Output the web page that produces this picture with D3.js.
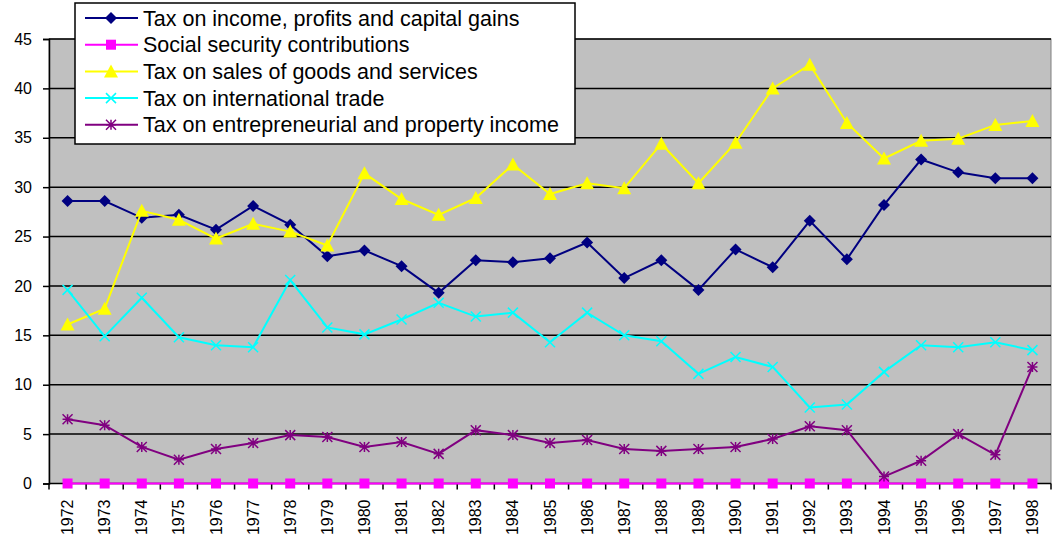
<!DOCTYPE html>
<html>
<head>
<meta charset="utf-8">
<script src="https://cdnjs.cloudflare.com/ajax/libs/d3/7.8.5/d3.min.js"></script>
<style>
  body { margin: 0; background: #fff; }
  svg { display: block; font-family: "Liberation Sans", Arial, sans-serif; }
</style>
</head>
<body>
<div id="chart"></div>
<script>

// categories
var years = ["1972", "1973", "1974", "1975", "1976", "1977", "1978", "1979", "1980", "1981",
  "1982", "1983", "1984", "1985", "1986", "1987", "1988", "1989", "1990", "1991",
  "1992", "1993", "1994", "1995", "1996", "1997", "1998"];

// series values
var incomeTax = [28.6, 28.6, 26.9, 27.2, 25.7, 28.1, 26.2, 23.0, 23.6, 22.0,
  19.3, 22.6, 22.4, 22.8, 24.4, 20.8, 22.6, 19.6, 23.7, 21.9,
  26.6, 22.7, 28.2, 32.8, 31.5, 30.9, 30.9];
var socialSecurity = [0, 0, 0, 0, 0, 0, 0, 0, 0, 0,
  0, 0, 0, 0, 0, 0, 0, 0, 0, 0,
  0, 0, 0, 0, 0, 0, 0];
var salesTax = [16.1, 17.7, 27.6, 26.7, 24.8, 26.3, 25.5, 24.1, 31.4, 28.8,
  27.2, 28.9, 32.3, 29.3, 30.4, 29.9, 34.4, 30.4, 34.5, 40.0,
  42.4, 36.5, 32.9, 34.7, 34.9, 36.3, 36.7];
var tradeTax = [19.6, 14.9, 18.8, 14.8, 14.0, 13.8, 20.6, 15.8, 15.1, 16.6,
  18.3, 16.9, 17.3, 14.3, 17.3, 15.0, 14.4, 11.1, 12.8, 11.8,
  7.7, 8.0, 11.3, 14.0, 13.8, 14.3, 13.5];
var propertyIncome = [6.5, 5.9, 3.7, 2.4, 3.5, 4.1, 4.9, 4.7, 3.7, 4.2,
  3.0, 5.4, 4.9, 4.1, 4.4, 3.5, 3.3, 3.5, 3.7, 4.5,
  5.8, 5.4, 0.7, 2.3, 5.0, 2.9, 11.8];

// legend labels
var seriesNames = ["Tax on income, profits and capital gains", "Social security contributions",
  "Tax on sales of goods and services", "Tax on international trade",
  "Tax on entrepreneurial and property income"];

// y tick labels
var yTicks = [0, 5, 10, 15, 20, 25, 30, 35, 40, 45];

var attrs = {
  width: 1053,
  height: 537,
  plotLeft: 49,
  plotRight: 1051,
  plotTop: 39,
  plotBottom: 483.5
};

var series = [
  { name: seriesNames[0], values: incomeTax, color: "#000080", marker: "diamond" },
  { name: seriesNames[1], values: socialSecurity, color: "#FF00FF", marker: "square" },
  { name: seriesNames[2], values: salesTax, color: "#FFFF00", marker: "triangle" },
  { name: seriesNames[3], values: tradeTax, color: "#00FFFF", marker: "cross" },
  { name: seriesNames[4], values: propertyIncome, color: "#800080", marker: "star" }
];

var svg = d3.select("#chart").append("svg")
  .attr("width", attrs.width)
  .attr("height", attrs.height);

// scales
var x = d3.scaleBand().domain(years).range([attrs.plotLeft, attrs.plotRight]).padding(0);
var y = d3.scaleLinear().domain([0, 45]).range([attrs.plotBottom, attrs.plotTop]);
var cx = function (d) { return x(d) + x.bandwidth() / 2; };

// plot background
svg.append("rect")
  .attr("x", attrs.plotLeft).attr("y", attrs.plotTop)
  .attr("width", attrs.plotRight - attrs.plotLeft)
  .attr("height", attrs.plotBottom - attrs.plotTop)
  .attr("fill", "#C0C0C0")
  .attr("stroke", "#808080").attr("stroke-width", 1);

// gridlines
svg.append("g").selectAll("line").data(yTicks.filter(function (d) { return d > 0; }))
  .enter().append("line")
  .attr("x1", attrs.plotLeft).attr("x2", attrs.plotRight)
  .attr("y1", function (d) { return y(d); }).attr("y2", function (d) { return y(d); })
  .attr("stroke", "#000").attr("stroke-width", 1.5);

// y axis
var yAxis = svg.append("g")
  .attr("transform", "translate(" + attrs.plotLeft + ",0)")
  .call(d3.axisLeft(y).tickValues(yTicks).tickSize(6).tickPadding(11));
yAxis.select(".domain").attr("stroke", "#000").attr("stroke-width", 1.5);
yAxis.selectAll(".tick line").attr("stroke", "#000").attr("stroke-width", 1.5);
yAxis.selectAll("text").attr("font-size", 16).attr("fill", "#000")
  .attr("font-family", "'Liberation Sans', Arial, sans-serif");

// x axis, ticks sit between categories
var xAxis = svg.append("g")
  .attr("transform", "translate(0," + attrs.plotBottom + ")");
xAxis.append("line")
  .attr("x1", attrs.plotLeft).attr("x2", attrs.plotRight)
  .attr("stroke", "#000").attr("stroke-width", 1.5);
xAxis.selectAll(".xtick").data(years.concat(["end"]))
  .enter().append("line")
  .attr("class", "xtick")
  .attr("x1", function (d, i) { return attrs.plotLeft + i * x.bandwidth(); })
  .attr("x2", function (d, i) { return attrs.plotLeft + i * x.bandwidth(); })
  .attr("y1", 0).attr("y2", 6)
  .attr("stroke", "#000").attr("stroke-width", 1.5);
xAxis.selectAll(".xlabel").data(years)
  .enter().append("text")
  .attr("class", "xlabel")
  .attr("transform", function (d) { return "translate(" + cx(d) + ",16) rotate(-90)"; })
  .attr("text-anchor", "end")
  .attr("dy", "0.35em")
  .attr("font-size", 16)
  .text(function (d) { return d; });

// marker shapes
function drawMarker(g, type, color, size) {
  var s = size;
  if (type === "diamond") {
    g.append("path").attr("d", "M0," + (-s) + "L" + s + ",0L0," + s + "L" + (-s) + ",0Z")
      .attr("fill", color);
  } else if (type === "square") {
    g.append("rect").attr("x", -s).attr("y", -s).attr("width", 2 * s).attr("height", 2 * s)
      .attr("fill", color);
  } else if (type === "triangle") {
    g.append("path").attr("d", "M0," + (-s - 1) + "L" + (s + 1) + "," + (s) + "L" + (-s - 1) + "," + (s) + "Z")
      .attr("fill", color);
  } else if (type === "cross") {
    g.append("path").attr("d", "M" + (-s) + "," + (-s) + "L" + s + "," + s + "M" + s + "," + (-s) + "L" + (-s) + "," + s)
      .attr("stroke", color).attr("stroke-width", 1.5).attr("fill", "none");
  } else if (type === "star") {
    g.append("path").attr("d", "M" + (-s) + "," + (-s) + "L" + s + "," + s + "M" + s + "," + (-s) + "L" + (-s) + "," + s +
        "M0," + (-s) + "L0," + s + "M" + (-s) + ",0L" + s + ",0")
      .attr("stroke", color).attr("stroke-width", 1.5).attr("fill", "none");
  }
}

var markerSize = { diamond: 6, square: 5, triangle: 6, cross: 5, star: 5 };

// series lines + markers
var line = d3.line()
  .x(function (d, i) { return cx(years[i]); })
  .y(function (d) { return y(d); });

series.forEach(function (s) {
  var g = svg.append("g").attr("class", "series");
  g.append("path")
    .datum(s.values)
    .attr("d", line)
    .attr("fill", "none")
    .attr("stroke", s.color)
    .attr("stroke-width", 2);
  g.selectAll(".pt").data(s.values)
    .enter().append("g")
    .attr("class", "pt")
    .attr("transform", function (d, i) { return "translate(" + cx(years[i]) + "," + y(d) + ")"; })
    .each(function () { drawMarker(d3.select(this), s.marker, s.color, markerSize[s.marker]); });
});

// legend
var legend = svg.append("g").attr("transform", "translate(75,3)");
legend.append("rect")
  .attr("x", 0).attr("y", 0)
  .attr("width", 500).attr("height", 141)
  .attr("fill", "#fff")
  .attr("stroke", "#000").attr("stroke-width", 1.5);

var rows = legend.selectAll(".row").data(series)
  .enter().append("g")
  .attr("class", "row")
  .attr("transform", function (d, i) { return "translate(0," + (15 + i * 26.7) + ")"; });
rows.append("line")
  .attr("x1", 10).attr("x2", 63)
  .attr("stroke", function (d) { return d.color; })
  .attr("stroke-width", 2);
rows.append("g")
  .attr("transform", "translate(36,0)")
  .each(function (d) { drawMarker(d3.select(this), d.marker, d.color, markerSize[d.marker]); });
rows.append("text")
  .attr("x", 68).attr("dy", "0.35em")
  .attr("font-size", 21.5)
  .text(function (d) { return d.name; });

</script>
</body>
</html>
